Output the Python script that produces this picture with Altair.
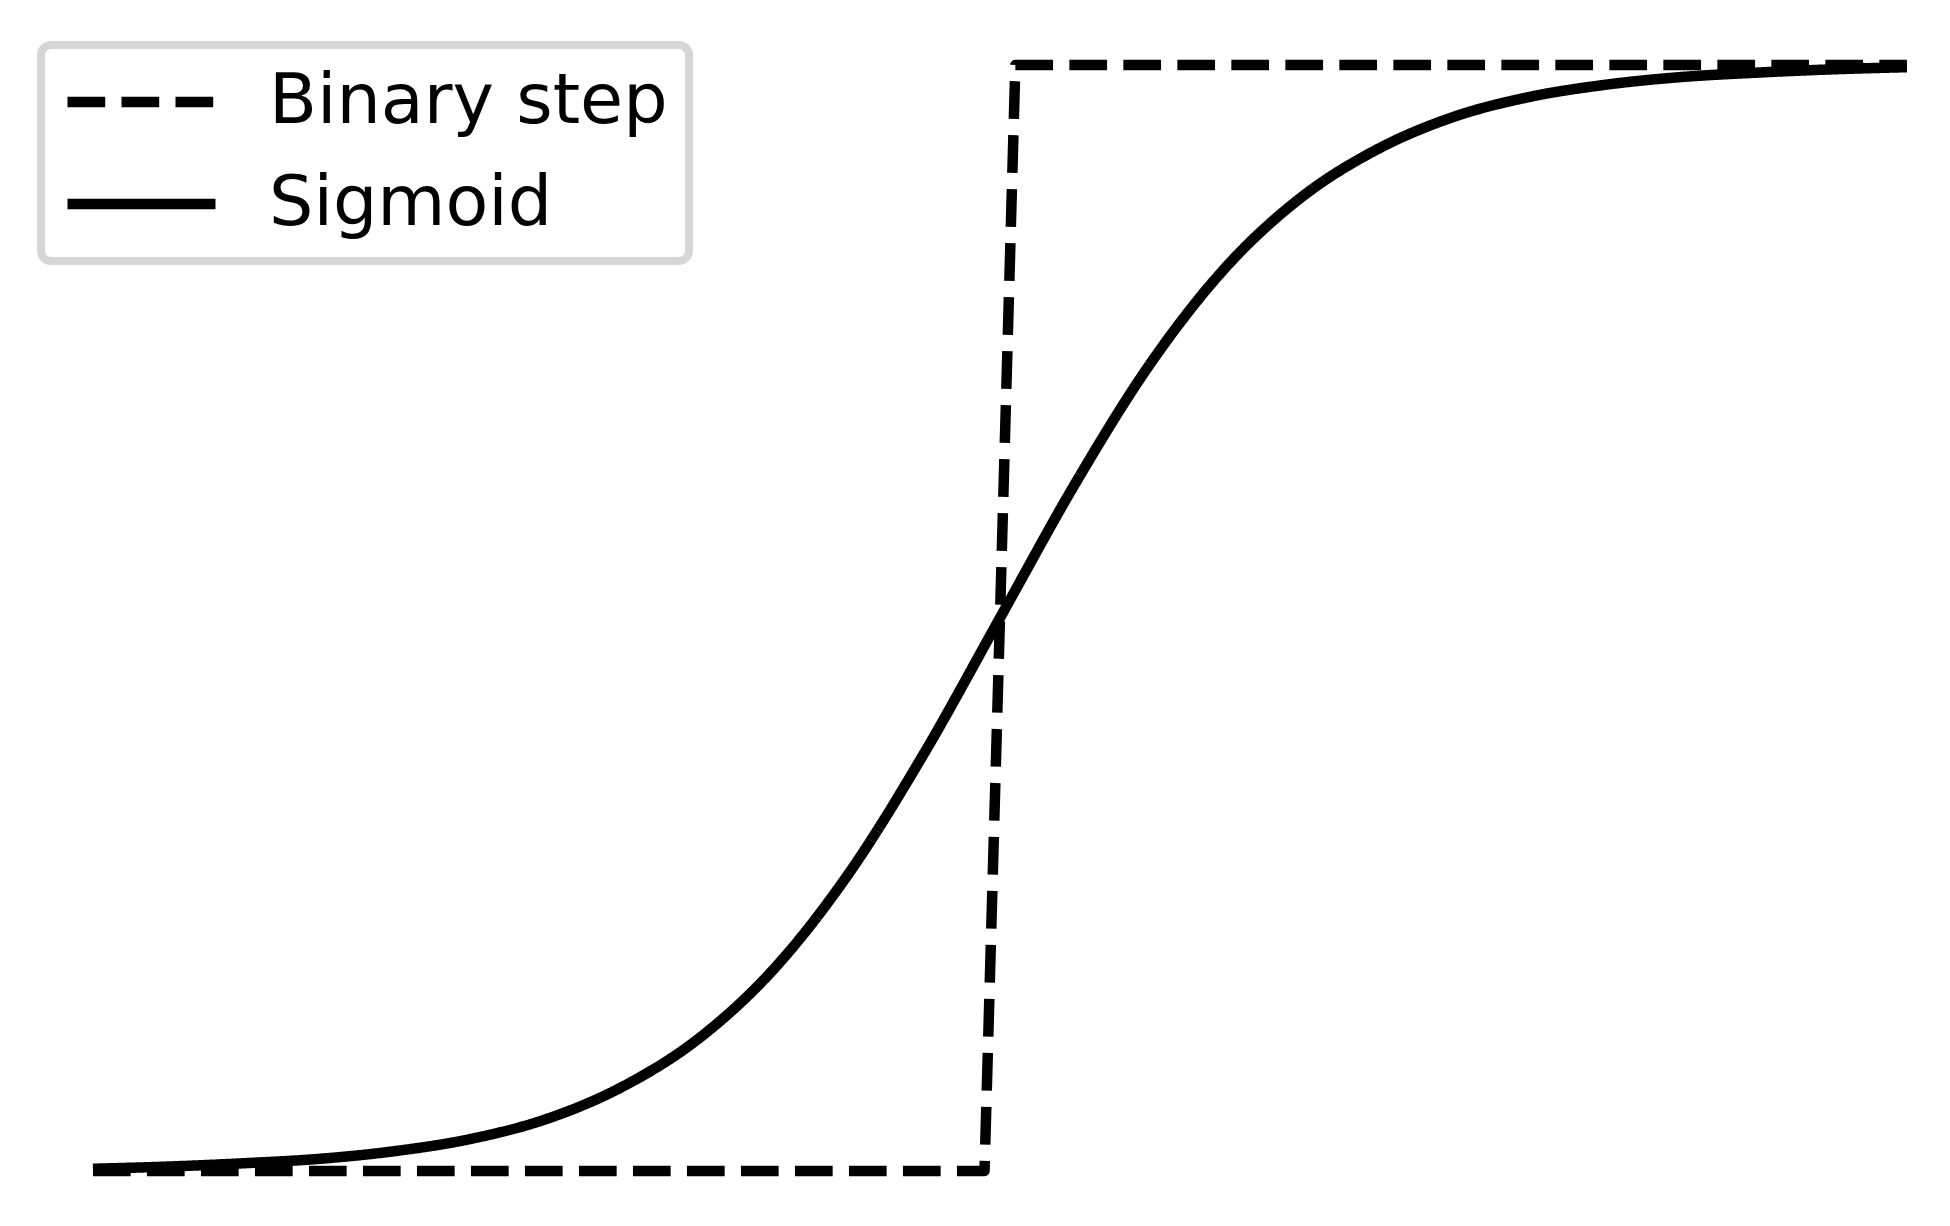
import altair as alt
import pandas as pd

# Binary step (corners of the sampled step)
step_x = [-6.0, -0.102, 0.102, 6.0]
step_y = [0.0, 0.0, 1.0, 1.0]

# Sigmoid
sig_x = [-6.0, -5.5, -5.0, -4.5, -4.0, -3.5, -3.0, -2.5, -2.0, -1.5, -1.0, -0.5,
         0.0, 0.5, 1.0, 1.5, 2.0, 2.5, 3.0, 3.5, 4.0, 4.5, 5.0, 5.5, 6.0]
sig_y = [0.002, 0.004, 0.007, 0.011, 0.018, 0.029, 0.047, 0.076, 0.119, 0.182,
         0.269, 0.378, 0.500, 0.622, 0.731, 0.818, 0.881, 0.924, 0.953, 0.971,
         0.982, 0.989, 0.993, 0.996, 0.998]

series = ["Binary step", "Sigmoid"]

step_df = pd.DataFrame({"x": step_x, "y": step_y, "s": series[0]})
sig_df = pd.DataFrame({"x": sig_x, "y": sig_y, "s": series[1]})

xs = alt.Scale(domain=[-6.562, 6.232], nice=False, zero=False)
ys = alt.Scale(domain=[-0.038, 1.0515], nice=False, zero=False)
dash = alt.StrokeDash(
    "s:N",
    scale=alt.Scale(domain=series, range=[[37.7, 16.3], [1, 0]]),
    legend=alt.Legend(
        title=None,
        orient="none",
        legendX=33,
        legendY=37,
        symbolType="stroke",
        symbolSize=21904,
        symbolStrokeWidth=10.5,
        symbolStrokeColor="black",
        symbolOffset=0,
        clipHeight=72,
        labelFont="DejaVu Sans",
        labelFontSize=70,
        labelColor="black",
        labelLimit=1000,
        labelOffset=48,
        padding=21,
        rowPadding=30,
        cornerRadius=10,
        fillColor="white",
        strokeColor="#d6d6d6",
    ),
)

base_enc = dict(
    x=alt.X("x:Q", scale=xs, axis=None),
    y=alt.Y("y:Q", scale=ys, axis=None),
    strokeDash=dash,
)

step = alt.Chart(step_df).mark_line(
    color="black", strokeWidth=10.5, strokeJoin="round", strokeCap="butt"
).encode(**base_enc)

sig = alt.Chart(sig_df).mark_line(
    color="black", strokeWidth=10.5, interpolate="monotone", strokeCap="butt"
).encode(**base_enc)

chart = alt.layer(step, sig).properties(
    width=1934, height=1205, autosize=alt.AutoSizeParams(type="none"), padding=0,
    background="white",
).configure_view(stroke=None)

try:
    c2 = chart.configure_legend(strokeWidth=8)
    c2.to_dict()
    chart = c2
except Exception:
    pass

chart.save("out.html", embed_options={"renderer": "svg", "actions": False})
